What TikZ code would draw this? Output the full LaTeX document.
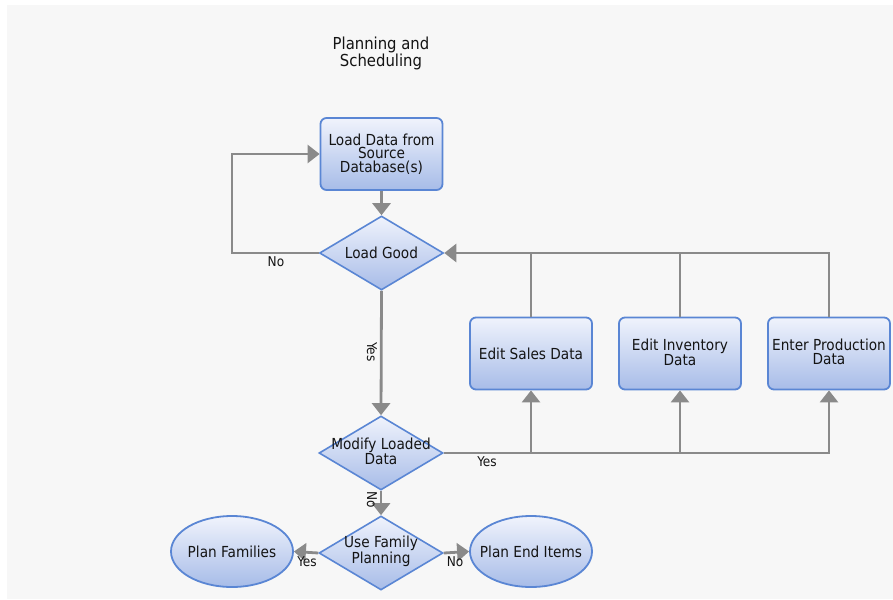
\documentclass[tikz,border=0pt]{standalone}
\usepackage{fontspec}
\newfontfamily\dvc{DejaVu Sans Condensed}
\usetikzlibrary{shapes.geometric,arrows.meta}
\definecolor{bgc}{HTML}{F7F7F7}
\definecolor{bdr}{HTML}{5A86D4}
\definecolor{ftop}{HTML}{F0F3FC}
\definecolor{fbot}{HTML}{A7BCE8}
\definecolor{lnc}{HTML}{8A8A8A}
\definecolor{txc}{HTML}{141414}
\begin{document}
\begin{tikzpicture}[x=1pt,y=-1pt,
  lbl/.style={font=\dvc\fontsize{15.2}{13.5}\selectfont, text=txc, align=center, inner sep=0pt},
  ttl/.style={font=\dvc\fontsize{16.5}{15}\selectfont, text=txc, align=center, inner sep=0pt},
  small/.style={font=\dvc\fontsize{13.5}{13}\selectfont, text=txc, inner sep=0pt},
  box/.style={draw=bdr, line width=1.8pt, rounded corners=6pt, top color=ftop, bottom color=fbot,
     minimum width=122pt, minimum height=72pt, inner sep=0pt},
  dia/.style={diamond, draw=bdr, line width=1.6pt, top color=ftop, bottom color=fbot,
     minimum width=124pt, minimum height=74pt, inner sep=0pt},
  ell/.style={ellipse, draw=bdr, line width=1.8pt, top color=ftop, bottom color=fbot,
     minimum width=122pt, minimum height=71pt, inner sep=0pt},
  conn/.style={draw=lnc, line width=2.8pt, -{Triangle[width=18pt,length=12pt]}},
  plain/.style={draw=lnc, line width=2.8pt}
]
\useasboundingbox (0,0) rectangle (893,599);
\fill[bgc] (7,5) rectangle (893,599);

% title
\node[ttl] (title) at (381,53) {Planning and\\Scheduling};

% nodes
\node[box] (ld) at (381.5,154) {};
\node[lbl] (ldt) at (ld) {Load Data from\\Source\\Database(s)};
\node[dia] (lg) at (381.5,253) {};
\node[lbl] (lgt) at (lg) {Load Good};
\node[dia] (md) at (381,453) {};
\node[lbl] (mdt) at (381,451) {Modify Loaded\\Data};
\node[box] (es) at (531,353.5) {};
\node[lbl] (est) at (es) {Edit Sales Data};
\node[box] (ei) at (680,353.5) {};
\node[lbl] (eit) at (680,352) {Edit Inventory\\Data};
\node[box] (ep) at (829,353.5) {};
\node[lbl] (ept) at (829,352) {Enter Production\\Data};
\node[dia] (uf) at (381,553) {};
\node[lbl] (uft) at (381,551) {Use Family\\Planning};
\node[ell] (pf) at (232,551.5) {};
\node[lbl] (pft) at (pf) {Plan Families};
\node[ell] (pe) at (531,551.5) {};
\node[lbl] (pet) at (pe) {Plan End Items};

% coordinates
\coordinate (c1) at (232,253);
\coordinate (j1) at (es.south |- md.east);
\coordinate (j2) at (ei.south |- md.east);
\coordinate (t1) at (es.north |- lg.east);
\coordinate (t2) at (ei.north |- lg.east);

% connectors
\draw[conn] (ld.south) -- (lg.north);
\draw[conn] (lg.west) -- (c1) |- (ld.west);
\draw[conn] (lg.south) -- (md.north);
\draw[conn] (md.east) -| (ep.south);
\draw[conn] (j1) -- (es.south);
\draw[conn] (j2) -- (ei.south);
\draw[conn] (ep.north) |- (lg.east);
\draw[plain] (es.north) -- (t1);
\draw[plain] (ei.north) -- (t2);
\draw[conn] (md.south) -- (uf.north);
\draw[conn] (uf.west) -- (pf.east);
\draw[conn] (uf.east) -- (pe.west);

% labels
\node[small] (lno1) at (276,262) {No};
\node[small, rotate=-90] (lyes1) at (372,352) {Yes};
\node[small] (lyes2) at (487,462) {Yes};
\node[small, rotate=-90] (lno2) at (372,500) {No};
\node[small] (lyes3) at (307,562) {Yes};
\node[small] (lno3) at (455,562) {No};
\end{tikzpicture}
\end{document}
